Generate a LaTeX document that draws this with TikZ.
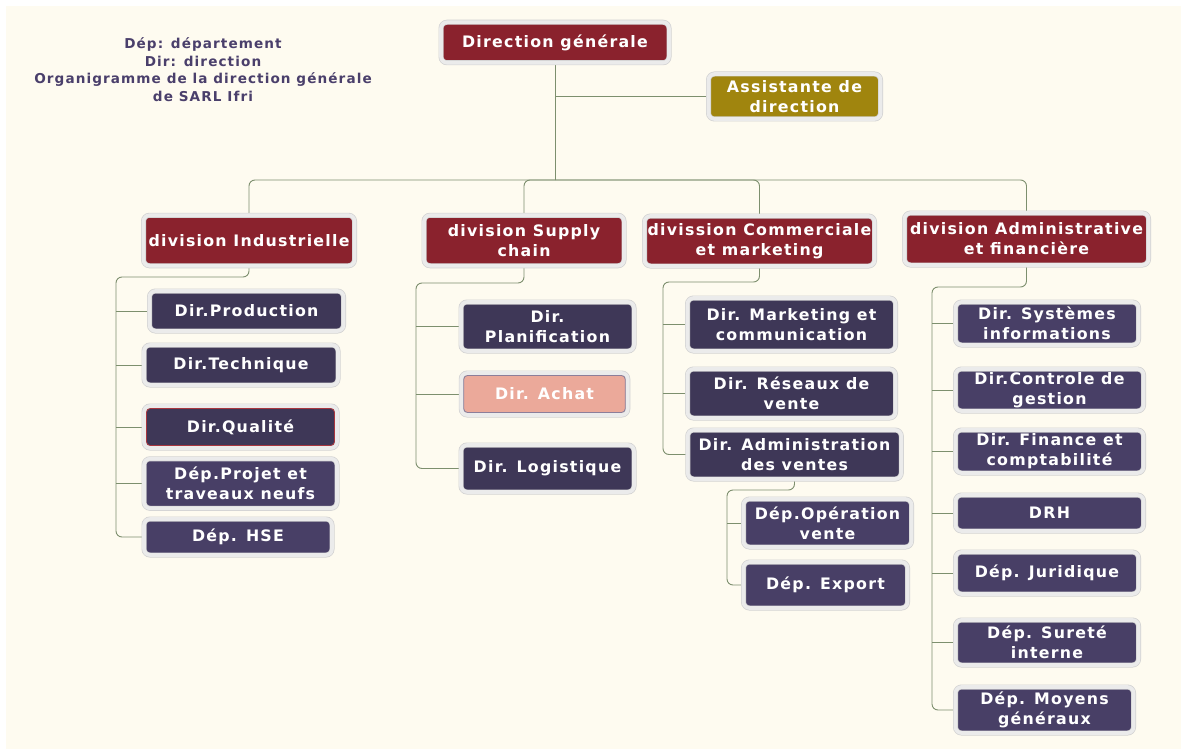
\documentclass[tikz,border=0pt]{standalone}
\usepackage{fontspec}
\setmainfont{DejaVu Sans}
\newfontfamily\boxfont[LetterSpace=8]{DejaVu Sans Bold}
\definecolor{bgc}{HTML}{FEFBF0}
\definecolor{divred}{HTML}{8A222D}
\definecolor{pdark}{HTML}{3E3757}
\definecolor{plight}{HTML}{483F66}
\definecolor{olive}{HTML}{A0850E}
\definecolor{salmon}{HTML}{EBA99A}
\definecolor{salmonline}{HTML}{8C7E9A}
\definecolor{qred}{HTML}{A8363F}
\definecolor{rimfill}{HTML}{EBEBEB}
\definecolor{rimline}{HTML}{D2D2D2}
\definecolor{conn}{HTML}{7D8F6E}
\definecolor{legc}{HTML}{4A3F6B}
\pgfdeclarelayer{bglayer}
\pgfdeclarelayer{lines}
\pgfsetlayers{bglayer,lines,main}
\tikzset{
  bx/.style={rounded corners=6pt, draw=rimline, double=rimfill, double distance=3.6pt,
    line width=0.7pt, text=white, align=center, inner sep=0pt,
    font=\boxfont\fontsize{15.8}{20}\selectfont},
  sz/.style 2 args={minimum width=#1pt, minimum height=#2pt},
  link/.style={draw=conn, line width=0.9pt},
  rlink/.style={draw=conn, line width=0.9pt, rounded corners=6pt},
}
\begin{document}
\begin{tikzpicture}[x=1pt,y=-1pt]
\useasboundingbox (0,0) rectangle (1181,749);
\begin{pgfonlayer}{bglayer}
\fill[white] (0,0) rectangle (1181,749);
\fill[bgc] (6,6) rectangle (1181,749);
\end{pgfonlayer}

% legend
\node[text=legc, align=center, font=\boxfont\fontsize{13.6}{17.6}\selectfont] (legend) at (203,69.5)
  {Dép: département\\Dir: direction\\Organigramme de la direction générale\\de SARL Ifri};

% top
\node[bx, fill=divred, sz={228}{40.5}] (dg) at (555,42.5) {Direction générale};
\node[bx, fill=olive, sz={172}{45}] (asst) at (794.5,96.5) {Assistante de\\direction};

% divisions
\node[bx, fill=divred, sz={211}{50.5}] (ind) at (249,240.5) {division Industrielle};
\node[bx, fill=divred, sz={200}{50.5}] (sup) at (524,240.5) {division Supply\\chain};
\node[bx, fill=divred, sz={230}{50}] (com) at (759.5,241) {divission Commerciale\\et marketing};
\node[bx, fill=divred, sz={244}{52}] (adm) at (1026.5,239) {division Administrative\\et financière};

% industrielle
\node[bx, fill=pdark, sz={194}{40}] (prod) at (246.5,311) {Dir.Production};
\node[bx, fill=pdark, sz={194}{40}] (tech) at (241,365) {Dir.Technique};
\node[bx, fill=pdark, sz={193}{42}] (qual) at (240.5,427) {Dir.Qualité};
\node[bx, fill=plight, sz={193}{49.5}] (proj) at (240.5,483.5) {Dép.Projet et\\traveaux neufs};
\node[bx, fill=plight, sz={188}{36}] (hse) at (238,537) {Dép. HSE};
\draw[draw=qred, line width=0.8pt, rounded corners=4pt]
  ([shift={(2.8,2.8)}]qual.north west) rectangle ([shift={(-2.8,-2.8)}]qual.south east);

% supply
\node[bx, fill=pdark, sz={173}{49}] (plan) at (547.5,326.5) {Dir.\\Planification};
\node[bx, fill=salmon, sz={166.5}{42}] (ach) at (544.5,394) {};
\draw[draw=salmonline, line width=0.8pt, rounded corners=4pt]
  ([shift={(2.8,2.8)}]ach.north west) rectangle ([shift={(-2.8,-2.8)}]ach.south east);
\node[text=white, font=\boxfont\fontsize{15.8}{20}\selectfont] (achtext) at (ach) {Dir. Achat};
\node[bx, fill=pdark, sz={173}{47}] (logi) at (547.5,468.5) {Dir. Logistique};

% commerciale
\node[bx, fill=pdark, sz={208}{53}] (mkt) at (791.5,324.5) {Dir. Marketing et\\communication};
\node[bx, fill=pdark, sz={208}{49}] (res) at (791.5,393.5) {Dir. Réseaux de\\vente};
\node[bx, fill=pdark, sz={213.5}{49}] (adv) at (794.5,454.5) {Dir. Administration\\des ventes};
\node[bx, fill=plight, sz={168}{48}] (ope) at (827.5,523) {Dép.Opération\\vente};
\node[bx, fill=plight, sz={164}{46}] (exp) at (825.5,585) {Dép. Export};

% administrative
\node[bx, fill=plight, sz={183}{43}] (sys) at (1047,323.5) {Dir. Systèmes\\informations};
\node[bx, fill=plight, sz={188}{42}] (ctl) at (1049.5,390) {Dir.Controle de\\gestion};
\node[bx, fill=plight, sz={188}{43}] (fin) at (1049.5,451.5) {Dir. Finance et\\comptabilité};
\node[bx, fill=plight, sz={188}{36}] (drh) at (1049.5,513) {DRH};
\node[bx, fill=plight, sz={183}{42}] (jur) at (1047,573) {Dép. Juridique};
\node[bx, fill=plight, sz={183}{45}] (sur) at (1047,642.5) {Dép. Sureté\\interne};
\node[bx, fill=plight, sz={178}{46}] (moy) at (1044.5,710) {Dép. Moyens\\généraux};

\begin{pgfonlayer}{lines}
% connectors: top
\coordinate (hub) at (555,180);
\draw[link] (dg.south) -- (hub);
\draw[link] (dg.south |- asst.west) -- (asst.west);
\draw[rlink] (hub) -| (ind.north);
\draw[rlink] (hub) -| (sup.north);
\draw[rlink] (hub) -| (com.north);
\draw[rlink] (hub) -| (adm.north);

% industrielle
\coordinate (s1) at (116,277);
\draw[rlink] (ind.south) |- (s1) |- (hse.west);
\foreach \n in {prod,tech,qual,proj} \draw[link] (s1 |- \n.west) -- (\n.west);

% supply
\coordinate (s2) at (416,283);
\draw[rlink] (sup.south) |- (s2) |- (logi.west);
\foreach \n in {plan,ach} \draw[link] (s2 |- \n.west) -- (\n.west);

% commerciale
\coordinate (s3) at (663,282);
\draw[rlink] (com.south) |- (s3) |- (adv.west);
\foreach \n in {mkt,res} \draw[link] (s3 |- \n.west) -- (\n.west);
\coordinate (s4) at (727,490);
\draw[rlink] (adv.south) |- (s4) |- (exp.west);
\draw[link] (s4 |- ope.west) -- (ope.west);

% administrative
\coordinate (s5) at (932,287);
\draw[rlink] (adm.south) |- (s5) |- (moy.west);
\foreach \n in {sys,ctl,fin,drh,jur,sur} \draw[link] (s5 |- \n.west) -- (\n.west);
\end{pgfonlayer}
\end{tikzpicture}
\end{document}
